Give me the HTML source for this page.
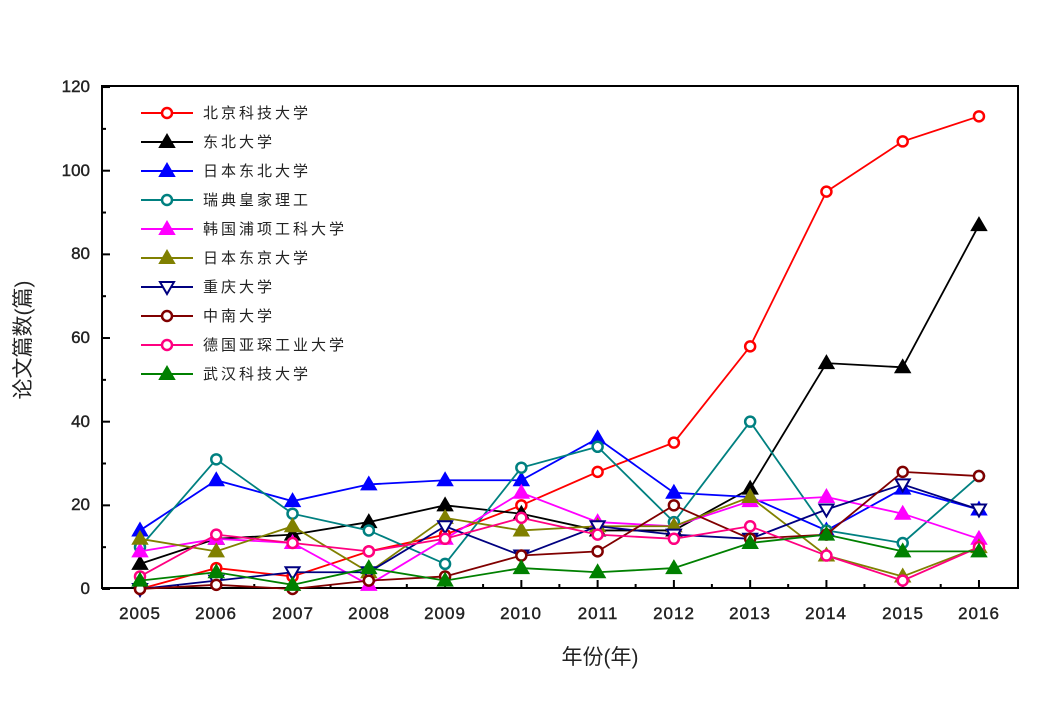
<!DOCTYPE html>
<html><head><meta charset="utf-8"><style>
body{margin:0;background:#fff}
svg text{font-family:"Liberation Sans","Noto Sans CJK SC",sans-serif}
</style></head><body>
<svg id="s" width="1059" height="706" xmlns="http://www.w3.org/2000/svg">
<rect x="102" y="86" width="916" height="502" fill="none" stroke="#000" stroke-width="2"/>
<g id="ticks" stroke="#000" stroke-width="2"></g>
<g font-size="17" fill="#222" text-anchor="end" stroke="#222" stroke-width="0.4">
<text x="90" y="594">0</text><text x="90" y="510">20</text><text x="90" y="427">40</text><text x="90" y="343">60</text><text x="90" y="259">80</text><text x="90" y="176">100</text><text x="90" y="92">120</text>
</g>
<g font-size="17" fill="#222" text-anchor="middle" letter-spacing="1" stroke="#222" stroke-width="0.4">
<text x="140" y="619">2005</text><text x="216" y="619">2006</text><text x="293" y="619">2007</text><text x="369" y="619">2008</text><text x="445" y="619">2009</text><text x="521" y="619">2010</text><text x="598" y="619">2011</text><text x="674" y="619">2012</text><text x="750" y="619">2013</text><text x="826" y="619">2014</text><text x="903" y="619">2015</text><text x="979" y="619">2016</text>
</g>
<text x="600" y="664" font-size="21" text-anchor="middle" fill="#222">年份(年)</text>
<text transform="translate(30,340) rotate(-90)" font-size="21" text-anchor="middle" fill="#222">论文篇数(篇)</text>
<g id="series"></g>
<g id="legend"></g>
<g font-size="15" fill="#222" letter-spacing="3">
<text x="203" y="118">北京科技大学</text>
<text x="203" y="147">东北大学</text>
<text x="203" y="176">日本东北大学</text>
<text x="203" y="205">瑞典皇家理工</text>
<text x="203" y="234">韩国浦项工科大学</text>
<text x="203" y="263">日本东京大学</text>
<text x="203" y="292">重庆大学</text>
<text x="203" y="321">中南大学</text>
<text x="203" y="350">德国亚琛工业大学</text>
<text x="203" y="379">武汉科技大学</text>
</g>
</svg>
<script>
var NS="http://www.w3.org/2000/svg";
function X(i){return 140+i*76.27}
function Y(v){return 589-v*4.183}
var t=document.getElementById('ticks');
function ln(g,x1,y1,x2,y2,c,w){var l=document.createElementNS(NS,'line');l.setAttribute('x1',x1);l.setAttribute('y1',y1);l.setAttribute('x2',x2);l.setAttribute('y2',y2);if(c){l.setAttribute('stroke',c);l.setAttribute('stroke-width',w)}g.appendChild(l)}
for(var v=0;v<=120;v+=10){ln(t,102,Y(v),v%20==0?110:106,Y(v))}
for(var i=0;i<12;i++){ln(t,X(i),588,X(i),580);if(i<11)ln(t,X(i)+38,588,X(i)+38,584)}
var S=[
["#ff0000","c",[0,5,3,9,13,20,28,35,58,95,107,113]],
["#000000","t",[6,12,13,16,20,18,14,14,24,54,53,87]],
["#0000ff","t",[14,26,21,25,26,26,36,23,22,14,24,19]],
["#008080","c",[10,31,18,14,6,29,34,16,40,14,11,27]],
["#ff00ff","t",[9,12,11,1,12,23,16,15,21,22,18,12]],
["#808000","t",[12,9,15,4,17,14,15,15,22,8,3,10]],
["#000080","d",[0,2,4,4,15,8,15,13,12,19,25,19]],
["#800000","c",[0,1,0,2,3,8,9,20,12,13,28,27]],
["#ff0080","c",[3,13,11,9,12,17,13,12,15,8,2,10]],
["#008000","t",[2,4,1,5,2,5,4,5,11,13,9,9]]];
var g=document.getElementById('series'),lg=document.getElementById('legend');
function mk(par,x,y,c,m){var e;
 if(m=="c"){e=document.createElementNS(NS,'circle');e.setAttribute('cx',x);e.setAttribute('cy',y);e.setAttribute('r',5);e.setAttribute('fill','#fff');e.setAttribute('stroke',c);e.setAttribute('stroke-width',2.5)}
 else{e=document.createElementNS(NS,'polygon');var p=m=="t"?[x,y-7,x-7,y+5,x+7,y+5]:[x-7,y-5,x+7,y-5,x,y+7];e.setAttribute('points',p.join(' '));e.setAttribute('fill',m=="t"?c:'#fff');e.setAttribute('stroke',c);e.setAttribute('stroke-width',2)}
 par.appendChild(e)}
S.forEach(function(s,k){
 var pl=document.createElementNS(NS,'polyline');
 pl.setAttribute('points',s[2].map(function(v,i){return X(i)+','+Y(v)}).join(' '));
 pl.setAttribute('fill','none');pl.setAttribute('stroke',s[0]);pl.setAttribute('stroke-width',1.8);g.appendChild(pl);
 s[2].forEach(function(v,i){mk(g,X(i),Y(v),s[0],s[1])});
 var ly=113+k*29;ln(lg,141,ly,193,ly,s[0],2);mk(lg,167,ly,s[0],s[1]);
});
</script>
</body></html>
